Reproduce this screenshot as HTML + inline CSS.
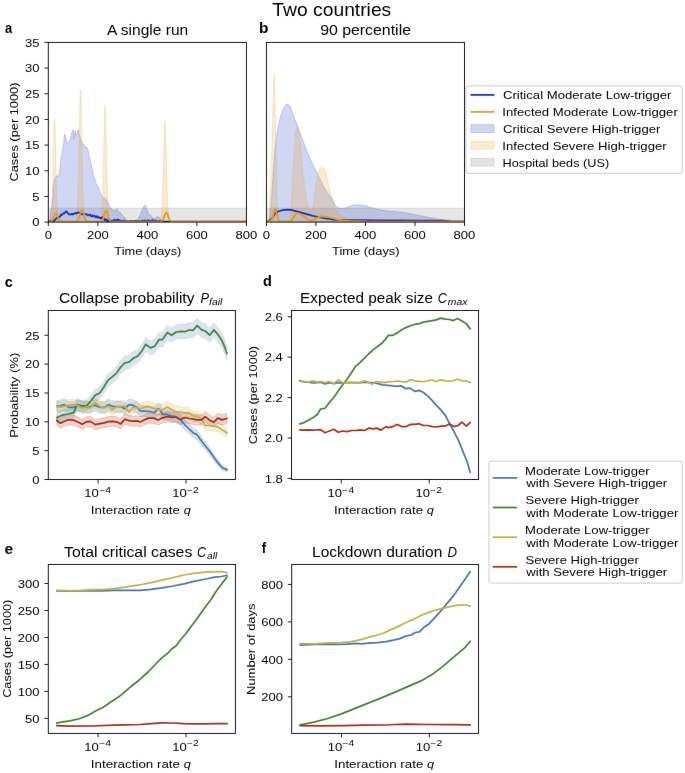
<!DOCTYPE html>
<html><head><meta charset="utf-8"><title>Two countries</title><style>
html,body{margin:0;padding:0;background:#fff;width:685px;height:773px;overflow:hidden}
svg{display:block;will-change:transform}
text{font-family:"Liberation Sans",sans-serif;fill:#000000}
</style></head><body>
<svg width="685" height="773" viewBox="0 0 685 773">
<defs><filter id="cv" x="0" y="0" width="685" height="773" filterUnits="userSpaceOnUse" color-interpolation-filters="sRGB"><feConvolveMatrix order="3" kernelMatrix="0.00163 0.03713 0.00163 0.03713 0.84497 0.03713 0.00163 0.03713 0.00163" edgeMode="duplicate" preserveAlpha="true"/></filter></defs><g filter="url(#cv)"><rect x="0" y="0" width="685" height="773" fill="#fff"/><defs>
<clipPath id="cpa"><rect x="48.3" y="42.4" width="198.10" height="179.70"/></clipPath>
<clipPath id="cpb"><rect x="266.4" y="42.4" width="198.10" height="179.70"/></clipPath>
<clipPath id="cpc"><rect x="48.3" y="310.5" width="187.10" height="169.00"/></clipPath>
<clipPath id="cpd"><rect x="291.5" y="310.5" width="187.10" height="169.00"/></clipPath>
<clipPath id="cpe"><rect x="48.3" y="564.5" width="187.10" height="168.90"/></clipPath>
<clipPath id="cpf"><rect x="291.7" y="564.5" width="186.90" height="168.90"/></clipPath>
</defs>
<text x="272.37" y="15.60" font-size="17.85" textLength="118.90" lengthAdjust="spacingAndGlyphs">Two countries</text>
<text x="5.01" y="33.00" font-size="13.97" textLength="7.21" lengthAdjust="spacingAndGlyphs" font-weight="bold">a</text>
<text x="259.10" y="32.60" font-size="13.97" textLength="9.44" lengthAdjust="spacingAndGlyphs" font-weight="bold">b</text>
<text x="4.73" y="286.90" font-size="13.97" textLength="7.99" lengthAdjust="spacingAndGlyphs" font-weight="bold">c</text>
<text x="263.12" y="285.90" font-size="13.97" textLength="8.83" lengthAdjust="spacingAndGlyphs" font-weight="bold">d</text>
<text x="4.48" y="553.60" font-size="13.97" textLength="8.65" lengthAdjust="spacingAndGlyphs" font-weight="bold">e</text>
<text x="261.77" y="552.60" font-size="13.97" textLength="4.41" lengthAdjust="spacingAndGlyphs" font-weight="bold">f</text>
<text x="106.96" y="35.30" font-size="13.97" textLength="81.22" lengthAdjust="spacingAndGlyphs">A single run</text>
<text x="320.15" y="35.30" font-size="13.97" textLength="90.85" lengthAdjust="spacingAndGlyphs">90 percentile</text>
<text x="59.12" y="303.20" font-size="13.97" textLength="135.31" lengthAdjust="spacingAndGlyphs">Collapse probability</text>
<text x="200.41" y="303.20" font-size="13.97" textLength="8.58" lengthAdjust="spacingAndGlyphs" font-style="italic">P</text>
<text x="209.06" y="304.50" font-size="9.78" textLength="13.41" lengthAdjust="spacingAndGlyphs" font-style="italic">fail</text>
<text x="300.14" y="303.20" font-size="13.97" textLength="132.85" lengthAdjust="spacingAndGlyphs">Expected peak size</text>
<text x="437.81" y="303.20" font-size="13.97" textLength="9.02" lengthAdjust="spacingAndGlyphs" font-style="italic">C</text>
<text x="447.82" y="304.50" font-size="9.78" textLength="19.59" lengthAdjust="spacingAndGlyphs" font-style="italic">max</text>
<text x="64.14" y="557.30" font-size="13.97" textLength="128.19" lengthAdjust="spacingAndGlyphs">Total critical cases</text>
<text x="197.11" y="557.30" font-size="13.97" textLength="9.02" lengthAdjust="spacingAndGlyphs" font-style="italic">C</text>
<text x="207.07" y="558.60" font-size="9.78" textLength="10.11" lengthAdjust="spacingAndGlyphs" font-style="italic">all</text>
<text x="312.02" y="557.30" font-size="13.97" textLength="130.29" lengthAdjust="spacingAndGlyphs">Lockdown duration</text>
<text x="447.60" y="557.30" font-size="13.97" textLength="9.52" lengthAdjust="spacingAndGlyphs" font-style="italic">D</text>
<text x="114.31" y="254.60" font-size="11.63" textLength="67.07" lengthAdjust="spacingAndGlyphs">Time (days)</text>
<text x="332.11" y="254.60" font-size="11.63" textLength="67.48" lengthAdjust="spacingAndGlyphs">Time (days)</text>
<text x="90.86" y="513.60" font-size="11.63" textLength="89.11" lengthAdjust="spacingAndGlyphs">Interaction rate</text>
<text x="183.69" y="513.60" font-size="11.63" textLength="7.09" lengthAdjust="spacingAndGlyphs" font-style="italic">q</text>
<text x="334.06" y="513.60" font-size="11.63" textLength="89.11" lengthAdjust="spacingAndGlyphs">Interaction rate</text>
<text x="426.89" y="513.60" font-size="11.63" textLength="7.09" lengthAdjust="spacingAndGlyphs" font-style="italic">q</text>
<text x="90.86" y="767.50" font-size="11.63" textLength="89.11" lengthAdjust="spacingAndGlyphs">Interaction rate</text>
<text x="183.69" y="767.50" font-size="11.63" textLength="7.09" lengthAdjust="spacingAndGlyphs" font-style="italic">q</text>
<text x="334.26" y="767.50" font-size="11.63" textLength="89.11" lengthAdjust="spacingAndGlyphs">Interaction rate</text>
<text x="427.09" y="767.50" font-size="11.63" textLength="7.09" lengthAdjust="spacingAndGlyphs" font-style="italic">q</text>
<text transform="translate(18.20 180.90) rotate(-90)" x="-0.64" y="0" font-size="11.63" textLength="99.03" lengthAdjust="spacingAndGlyphs">Cases (per 1000)</text>
<text transform="translate(18.40 436.60) rotate(-90)" x="-1.08" y="0" font-size="11.63" textLength="84.96" lengthAdjust="spacingAndGlyphs">Probability (%)</text>
<text transform="translate(257.40 443.60) rotate(-90)" x="-0.64" y="0" font-size="11.63" textLength="98.32" lengthAdjust="spacingAndGlyphs">Cases (per 1000)</text>
<text transform="translate(11.30 697.20) rotate(-90)" x="-0.63" y="0" font-size="11.63" textLength="98.11" lengthAdjust="spacingAndGlyphs">Cases (per 1000)</text>
<text transform="translate(254.50 693.90) rotate(-90)" x="-1.07" y="0" font-size="11.63" textLength="91.51" lengthAdjust="spacingAndGlyphs">Number of days</text>
<line x1="48.30" y1="222.10" x2="48.30" y2="226.00" stroke="#000000" stroke-width="0.89"/>
<text x="48.30" y="239.40" font-size="11.63" text-anchor="middle" textLength="7.25" lengthAdjust="spacingAndGlyphs">0</text>
<line x1="97.83" y1="222.10" x2="97.83" y2="226.00" stroke="#000000" stroke-width="0.89"/>
<text x="97.83" y="239.40" font-size="11.63" text-anchor="middle" textLength="21.76" lengthAdjust="spacingAndGlyphs">200</text>
<line x1="147.35" y1="222.10" x2="147.35" y2="226.00" stroke="#000000" stroke-width="0.89"/>
<text x="147.35" y="239.40" font-size="11.63" text-anchor="middle" textLength="21.76" lengthAdjust="spacingAndGlyphs">400</text>
<line x1="196.88" y1="222.10" x2="196.88" y2="226.00" stroke="#000000" stroke-width="0.89"/>
<text x="196.88" y="239.40" font-size="11.63" text-anchor="middle" textLength="21.76" lengthAdjust="spacingAndGlyphs">600</text>
<line x1="246.40" y1="222.10" x2="246.40" y2="226.00" stroke="#000000" stroke-width="0.89"/>
<text x="246.40" y="239.40" font-size="11.63" text-anchor="middle" textLength="21.76" lengthAdjust="spacingAndGlyphs">800</text>
<line x1="266.40" y1="222.10" x2="266.40" y2="226.00" stroke="#000000" stroke-width="0.89"/>
<text x="266.40" y="239.40" font-size="11.63" text-anchor="middle" textLength="7.25" lengthAdjust="spacingAndGlyphs">0</text>
<line x1="315.92" y1="222.10" x2="315.92" y2="226.00" stroke="#000000" stroke-width="0.89"/>
<text x="315.92" y="239.40" font-size="11.63" text-anchor="middle" textLength="21.76" lengthAdjust="spacingAndGlyphs">200</text>
<line x1="365.45" y1="222.10" x2="365.45" y2="226.00" stroke="#000000" stroke-width="0.89"/>
<text x="365.45" y="239.40" font-size="11.63" text-anchor="middle" textLength="21.76" lengthAdjust="spacingAndGlyphs">400</text>
<line x1="414.98" y1="222.10" x2="414.98" y2="226.00" stroke="#000000" stroke-width="0.89"/>
<text x="414.98" y="239.40" font-size="11.63" text-anchor="middle" textLength="21.76" lengthAdjust="spacingAndGlyphs">600</text>
<line x1="464.50" y1="222.10" x2="464.50" y2="226.00" stroke="#000000" stroke-width="0.89"/>
<text x="464.50" y="239.40" font-size="11.63" text-anchor="middle" textLength="21.76" lengthAdjust="spacingAndGlyphs">800</text>
<line x1="44.40" y1="222.10" x2="48.30" y2="222.10" stroke="#000000" stroke-width="0.89"/>
<text x="39.60" y="226.35" font-size="11.63" text-anchor="end" textLength="7.25" lengthAdjust="spacingAndGlyphs">0</text>
<line x1="44.40" y1="196.43" x2="48.30" y2="196.43" stroke="#000000" stroke-width="0.89"/>
<text x="39.60" y="200.68" font-size="11.63" text-anchor="end" textLength="7.25" lengthAdjust="spacingAndGlyphs">5</text>
<line x1="44.40" y1="170.76" x2="48.30" y2="170.76" stroke="#000000" stroke-width="0.89"/>
<text x="39.60" y="175.01" font-size="11.63" text-anchor="end" textLength="14.51" lengthAdjust="spacingAndGlyphs">10</text>
<line x1="44.40" y1="145.09" x2="48.30" y2="145.09" stroke="#000000" stroke-width="0.89"/>
<text x="39.60" y="149.34" font-size="11.63" text-anchor="end" textLength="14.51" lengthAdjust="spacingAndGlyphs">15</text>
<line x1="44.40" y1="119.41" x2="48.30" y2="119.41" stroke="#000000" stroke-width="0.89"/>
<text x="39.60" y="123.66" font-size="11.63" text-anchor="end" textLength="14.51" lengthAdjust="spacingAndGlyphs">20</text>
<line x1="44.40" y1="93.74" x2="48.30" y2="93.74" stroke="#000000" stroke-width="0.89"/>
<text x="39.60" y="97.99" font-size="11.63" text-anchor="end" textLength="14.51" lengthAdjust="spacingAndGlyphs">25</text>
<line x1="44.40" y1="68.07" x2="48.30" y2="68.07" stroke="#000000" stroke-width="0.89"/>
<text x="39.60" y="72.32" font-size="11.63" text-anchor="end" textLength="14.51" lengthAdjust="spacingAndGlyphs">30</text>
<line x1="44.40" y1="42.40" x2="48.30" y2="42.40" stroke="#000000" stroke-width="0.89"/>
<text x="39.60" y="46.65" font-size="11.63" text-anchor="end" textLength="14.51" lengthAdjust="spacingAndGlyphs">35</text>
<line x1="98.10" y1="479.50" x2="98.10" y2="483.40" stroke="#000000" stroke-width="0.89"/>
<text x="84.36" y="496.70" font-size="11.63" textLength="14.51" lengthAdjust="spacingAndGlyphs">10</text>
<text x="99.17" y="492.50" font-size="8.14" textLength="11.76" lengthAdjust="spacingAndGlyphs">−4</text>
<line x1="186.00" y1="479.50" x2="186.00" y2="483.40" stroke="#000000" stroke-width="0.89"/>
<text x="172.26" y="496.70" font-size="11.63" textLength="14.51" lengthAdjust="spacingAndGlyphs">10</text>
<text x="187.07" y="492.50" font-size="8.14" textLength="11.76" lengthAdjust="spacingAndGlyphs">−2</text>
<line x1="341.30" y1="479.50" x2="341.30" y2="483.40" stroke="#000000" stroke-width="0.89"/>
<text x="327.56" y="496.70" font-size="11.63" textLength="14.51" lengthAdjust="spacingAndGlyphs">10</text>
<text x="342.37" y="492.50" font-size="8.14" textLength="11.76" lengthAdjust="spacingAndGlyphs">−4</text>
<line x1="429.20" y1="479.50" x2="429.20" y2="483.40" stroke="#000000" stroke-width="0.89"/>
<text x="415.46" y="496.70" font-size="11.63" textLength="14.51" lengthAdjust="spacingAndGlyphs">10</text>
<text x="430.27" y="492.50" font-size="8.14" textLength="11.76" lengthAdjust="spacingAndGlyphs">−2</text>
<line x1="98.10" y1="733.40" x2="98.10" y2="737.30" stroke="#000000" stroke-width="0.89"/>
<text x="84.36" y="750.60" font-size="11.63" textLength="14.51" lengthAdjust="spacingAndGlyphs">10</text>
<text x="99.17" y="746.40" font-size="8.14" textLength="11.76" lengthAdjust="spacingAndGlyphs">−4</text>
<line x1="186.00" y1="733.40" x2="186.00" y2="737.30" stroke="#000000" stroke-width="0.89"/>
<text x="172.26" y="750.60" font-size="11.63" textLength="14.51" lengthAdjust="spacingAndGlyphs">10</text>
<text x="187.07" y="746.40" font-size="8.14" textLength="11.76" lengthAdjust="spacingAndGlyphs">−2</text>
<line x1="341.50" y1="733.40" x2="341.50" y2="737.30" stroke="#000000" stroke-width="0.89"/>
<text x="327.76" y="750.60" font-size="11.63" textLength="14.51" lengthAdjust="spacingAndGlyphs">10</text>
<text x="342.57" y="746.40" font-size="8.14" textLength="11.76" lengthAdjust="spacingAndGlyphs">−4</text>
<line x1="429.40" y1="733.40" x2="429.40" y2="737.30" stroke="#000000" stroke-width="0.89"/>
<text x="415.66" y="750.60" font-size="11.63" textLength="14.51" lengthAdjust="spacingAndGlyphs">10</text>
<text x="430.47" y="746.40" font-size="8.14" textLength="11.76" lengthAdjust="spacingAndGlyphs">−2</text>
<line x1="44.40" y1="479.50" x2="48.30" y2="479.50" stroke="#000000" stroke-width="0.89"/>
<text x="39.60" y="483.75" font-size="11.63" text-anchor="end" textLength="7.25" lengthAdjust="spacingAndGlyphs">0</text>
<line x1="44.40" y1="450.65" x2="48.30" y2="450.65" stroke="#000000" stroke-width="0.89"/>
<text x="39.60" y="454.90" font-size="11.63" text-anchor="end" textLength="7.25" lengthAdjust="spacingAndGlyphs">5</text>
<line x1="44.40" y1="421.80" x2="48.30" y2="421.80" stroke="#000000" stroke-width="0.89"/>
<text x="39.60" y="426.05" font-size="11.63" text-anchor="end" textLength="14.51" lengthAdjust="spacingAndGlyphs">10</text>
<line x1="44.40" y1="392.95" x2="48.30" y2="392.95" stroke="#000000" stroke-width="0.89"/>
<text x="39.60" y="397.20" font-size="11.63" text-anchor="end" textLength="14.51" lengthAdjust="spacingAndGlyphs">15</text>
<line x1="44.40" y1="364.10" x2="48.30" y2="364.10" stroke="#000000" stroke-width="0.89"/>
<text x="39.60" y="368.35" font-size="11.63" text-anchor="end" textLength="14.51" lengthAdjust="spacingAndGlyphs">20</text>
<line x1="44.40" y1="335.25" x2="48.30" y2="335.25" stroke="#000000" stroke-width="0.89"/>
<text x="39.60" y="339.50" font-size="11.63" text-anchor="end" textLength="14.51" lengthAdjust="spacingAndGlyphs">25</text>
<line x1="287.60" y1="478.40" x2="291.50" y2="478.40" stroke="#000000" stroke-width="0.89"/>
<text x="282.80" y="482.65" font-size="11.63" text-anchor="end" textLength="18.13" lengthAdjust="spacingAndGlyphs">1.8</text>
<line x1="287.60" y1="438.00" x2="291.50" y2="438.00" stroke="#000000" stroke-width="0.89"/>
<text x="282.80" y="442.25" font-size="11.63" text-anchor="end" textLength="18.13" lengthAdjust="spacingAndGlyphs">2.0</text>
<line x1="287.60" y1="397.60" x2="291.50" y2="397.60" stroke="#000000" stroke-width="0.89"/>
<text x="282.80" y="401.85" font-size="11.63" text-anchor="end" textLength="18.13" lengthAdjust="spacingAndGlyphs">2.2</text>
<line x1="287.60" y1="357.20" x2="291.50" y2="357.20" stroke="#000000" stroke-width="0.89"/>
<text x="282.80" y="361.45" font-size="11.63" text-anchor="end" textLength="18.13" lengthAdjust="spacingAndGlyphs">2.4</text>
<line x1="287.60" y1="316.80" x2="291.50" y2="316.80" stroke="#000000" stroke-width="0.89"/>
<text x="282.80" y="321.05" font-size="11.63" text-anchor="end" textLength="18.13" lengthAdjust="spacingAndGlyphs">2.6</text>
<line x1="44.40" y1="718.40" x2="48.30" y2="718.40" stroke="#000000" stroke-width="0.89"/>
<text x="39.60" y="722.65" font-size="11.63" text-anchor="end" textLength="14.51" lengthAdjust="spacingAndGlyphs">50</text>
<line x1="44.40" y1="691.42" x2="48.30" y2="691.42" stroke="#000000" stroke-width="0.89"/>
<text x="39.60" y="695.67" font-size="11.63" text-anchor="end" textLength="21.76" lengthAdjust="spacingAndGlyphs">100</text>
<line x1="44.40" y1="664.44" x2="48.30" y2="664.44" stroke="#000000" stroke-width="0.89"/>
<text x="39.60" y="668.69" font-size="11.63" text-anchor="end" textLength="21.76" lengthAdjust="spacingAndGlyphs">150</text>
<line x1="44.40" y1="637.46" x2="48.30" y2="637.46" stroke="#000000" stroke-width="0.89"/>
<text x="39.60" y="641.71" font-size="11.63" text-anchor="end" textLength="21.76" lengthAdjust="spacingAndGlyphs">200</text>
<line x1="44.40" y1="610.48" x2="48.30" y2="610.48" stroke="#000000" stroke-width="0.89"/>
<text x="39.60" y="614.73" font-size="11.63" text-anchor="end" textLength="21.76" lengthAdjust="spacingAndGlyphs">250</text>
<line x1="44.40" y1="583.50" x2="48.30" y2="583.50" stroke="#000000" stroke-width="0.89"/>
<text x="39.60" y="587.75" font-size="11.63" text-anchor="end" textLength="21.76" lengthAdjust="spacingAndGlyphs">300</text>
<line x1="287.80" y1="696.80" x2="291.70" y2="696.80" stroke="#000000" stroke-width="0.89"/>
<text x="283.00" y="701.05" font-size="11.63" text-anchor="end" textLength="21.76" lengthAdjust="spacingAndGlyphs">200</text>
<line x1="287.80" y1="659.36" x2="291.70" y2="659.36" stroke="#000000" stroke-width="0.89"/>
<text x="283.00" y="663.61" font-size="11.63" text-anchor="end" textLength="21.76" lengthAdjust="spacingAndGlyphs">400</text>
<line x1="287.80" y1="621.92" x2="291.70" y2="621.92" stroke="#000000" stroke-width="0.89"/>
<text x="283.00" y="626.17" font-size="11.63" text-anchor="end" textLength="21.76" lengthAdjust="spacingAndGlyphs">600</text>
<line x1="287.80" y1="584.48" x2="291.70" y2="584.48" stroke="#000000" stroke-width="0.89"/>
<text x="283.00" y="588.73" font-size="11.63" text-anchor="end" textLength="21.76" lengthAdjust="spacingAndGlyphs">800</text>
<rect x="48.3" y="208.2" width="198.10" height="13.90" fill="#808080" fill-opacity="0.2" stroke="#808080" stroke-opacity="0.2" stroke-width="1" clip-path="url(#cpa)"/>
<rect x="266.4" y="208.2" width="198.10" height="13.90" fill="#808080" fill-opacity="0.2" stroke="#808080" stroke-opacity="0.2" stroke-width="1" clip-path="url(#cpb)"/>
<polygon points="49.40,222.10 49.90,218.77 50.40,215.44 50.90,212.05 51.40,208.74 52.10,202.44 52.80,196.52 53.45,188.13 54.10,181.07 54.65,179.49 55.20,177.15 55.77,176.97 56.33,175.75 56.90,175.67 57.55,176.10 58.20,177.04 58.90,174.37 59.60,171.11 60.20,164.67 60.80,158.08 61.40,156.38 62.00,153.90 62.60,150.96 63.20,147.20 63.80,142.14 64.30,134.72 65.20,134.53 66.10,138.50 67.00,143.47 67.55,142.96 68.10,143.12 68.70,142.58 69.30,141.17 69.90,139.99 70.50,140.06 71.40,133.84 71.95,132.48 72.50,130.50 73.40,129.84 74.00,139.19 74.55,135.37 75.10,131.19 76.00,135.30 76.60,134.51 77.20,133.47 77.80,131.70 78.40,129.87 79.20,134.70 79.70,136.57 80.20,137.54 80.70,139.78 81.27,140.60 81.83,141.74 82.40,143.42 82.90,143.68 83.40,144.12 83.90,144.88 84.80,146.20 85.35,146.46 85.90,148.28 86.50,147.17 87.10,147.75 87.70,149.74 88.30,150.82 88.90,154.79 89.50,157.57 90.05,159.83 90.60,161.31 91.13,163.71 91.67,166.21 92.20,169.36 92.70,170.62 93.20,173.21 93.70,175.40 94.20,177.44 94.70,178.54 95.20,180.25 95.70,182.12 96.20,184.08 96.72,184.11 97.25,185.45 97.78,186.20 98.30,186.96 98.95,188.14 99.60,191.05 100.30,192.14 101.00,194.34 101.57,195.58 102.13,196.85 102.70,197.24 103.22,198.00 103.75,197.80 104.28,197.74 104.80,197.92 105.30,198.28 105.80,198.68 106.30,199.25 106.80,200.29 107.45,202.00 108.10,202.56 108.80,203.80 109.50,206.09 110.20,206.98 110.90,208.21 111.40,208.54 111.90,209.39 112.40,210.13 112.90,210.26 113.40,210.40 113.90,210.21 114.40,211.24 114.90,210.53 115.60,210.29 116.30,209.94 117.00,208.63 117.65,210.23 118.30,211.45 118.83,211.63 119.35,212.29 119.88,212.11 120.40,212.93 120.90,213.17 121.40,214.39 121.90,214.37 122.40,215.05 122.90,216.10 123.40,216.45 123.90,217.08 124.40,217.05 124.93,217.94 125.45,219.03 125.97,219.63 126.50,220.29 127.00,220.58 127.50,220.50 128.00,220.90 128.50,221.69 129.02,221.61 129.55,221.22 130.07,221.04 130.59,220.82 131.12,220.52 131.64,220.65 132.16,221.11 132.68,221.14 133.21,220.58 133.73,220.95 134.25,220.88 134.78,220.75 135.30,220.66 135.84,220.50 136.38,219.84 136.92,219.92 137.46,219.24 138.00,219.19 138.50,218.44 139.00,217.34 139.50,215.92 140.00,215.55 140.53,214.05 141.05,212.78 141.57,211.01 142.10,210.35 142.60,208.88 143.10,208.12 143.60,206.74 144.10,205.92 144.60,205.20 145.10,204.80 145.65,205.55 146.20,207.04 146.85,209.19 147.50,211.33 148.20,212.90 148.90,215.44 149.55,215.12 150.20,214.59 150.90,215.58 151.60,216.26 152.25,217.17 152.90,218.53 153.60,217.82 154.30,218.14 155.00,218.59 155.70,218.48 156.35,217.64 157.00,216.62 157.50,216.76 158.00,216.34 158.50,217.08 159.00,217.43 159.50,218.07 160.00,218.37 160.50,219.12 161.00,219.87 161.50,220.34 162.00,221.02 162.50,220.48 163.00,220.76 163.50,221.19 164.00,221.40 164.00,222.10 49.40,222.10" fill="#1830c4" fill-opacity="0.2" stroke="#1830c4" stroke-opacity="0.2" stroke-width="1.0" stroke-linejoin="round" clip-path="url(#cpa)"/>
<polygon points="46.50,222.10 46.70,222.10 46.90,222.10 47.10,222.10 47.30,222.10 47.50,222.10 47.70,222.09 47.90,222.09 48.10,222.09 48.30,222.08 48.50,222.06 48.70,222.04 48.90,222.01 49.10,221.95 49.30,221.87 49.50,221.76 49.70,221.58 49.90,221.34 50.10,220.99 50.30,220.50 50.50,219.83 50.70,218.92 50.90,217.70 51.10,216.11 51.30,214.06 51.50,211.45 51.70,208.21 51.90,204.25 52.10,199.50 52.30,193.92 52.50,187.50 52.70,180.28 52.90,172.37 53.10,163.93 53.30,155.20 53.50,146.49 53.70,138.19 53.90,130.73 54.10,124.58 54.30,120.29 54.50,118.50 54.70,120.29 54.90,124.58 55.10,130.73 55.30,138.19 55.50,146.49 55.70,155.20 55.90,163.93 56.10,172.37 56.30,180.28 56.50,187.50 56.70,193.92 56.90,199.50 57.10,204.25 57.30,208.21 57.50,211.45 57.70,214.06 57.90,216.11 58.10,217.70 58.30,218.92 58.50,219.83 58.70,220.50 58.90,220.99 59.10,221.34 59.30,221.58 59.50,221.76 59.70,221.87 59.90,221.95 60.10,222.01 60.30,222.04 60.50,222.06 60.70,222.08 60.90,222.09 61.10,222.09 61.30,222.09 61.50,222.10 61.70,222.10 61.90,222.10 62.10,222.10 62.30,222.10 62.50,222.10" fill="#e69919" fill-opacity="0.2" stroke="#e69919" stroke-opacity="0.2" stroke-width="1.0" stroke-linejoin="round" clip-path="url(#cpa)"/>
<polygon points="72.50,222.10 72.70,222.10 72.90,222.10 73.10,222.10 73.30,222.09 73.50,222.09 73.70,222.08 73.90,222.08 74.10,222.06 74.30,222.04 74.50,222.00 74.70,221.95 74.90,221.88 75.10,221.76 75.30,221.60 75.50,221.37 75.70,221.05 75.90,220.60 76.10,219.98 76.30,219.15 76.50,218.04 76.70,216.58 76.90,214.68 77.10,212.27 77.30,209.24 77.50,205.50 77.70,200.95 77.90,195.51 78.10,189.12 78.30,181.77 78.50,173.47 78.70,164.30 78.90,154.40 79.10,143.99 79.30,133.37 79.50,122.90 79.70,113.01 79.90,104.20 80.10,97.00 80.30,91.98 80.50,89.90 80.70,91.98 80.90,97.00 81.10,104.20 81.30,113.01 81.50,122.90 81.70,133.37 81.90,143.99 82.10,154.40 82.30,164.30 82.50,173.47 82.70,181.77 82.90,189.12 83.10,195.51 83.30,200.95 83.50,205.50 83.70,209.24 83.90,212.27 84.10,214.68 84.30,216.58 84.50,218.04 84.70,219.15 84.90,219.98 85.10,220.60 85.30,221.05 85.50,221.37 85.70,221.60 85.90,221.76 86.10,221.88 86.30,221.95 86.50,222.00 86.70,222.04 86.90,222.06 87.10,222.08 87.30,222.08 87.50,222.09 87.70,222.09 87.90,222.10 88.10,222.10 88.30,222.10 88.50,222.10" fill="#e69919" fill-opacity="0.2" stroke="#e69919" stroke-opacity="0.2" stroke-width="1.0" stroke-linejoin="round" clip-path="url(#cpa)"/>
<polygon points="97.10,222.10 97.30,222.10 97.50,222.10 97.70,222.10 97.90,222.09 98.10,222.09 98.30,222.09 98.50,222.08 98.70,222.07 98.90,222.05 99.10,222.01 99.30,221.97 99.50,221.90 99.70,221.80 99.90,221.66 100.10,221.46 100.30,221.17 100.50,220.78 100.70,220.23 100.90,219.49 101.10,218.51 101.30,217.22 101.50,215.55 101.70,213.42 101.90,210.75 102.10,207.44 102.30,203.43 102.50,198.62 102.70,192.99 102.90,186.50 103.10,179.17 103.30,171.07 103.50,162.34 103.70,153.15 103.90,143.77 104.10,134.53 104.30,125.80 104.50,118.03 104.70,111.67 104.90,107.23 105.10,105.40 105.30,107.23 105.50,111.67 105.70,118.03 105.90,125.80 106.10,134.53 106.30,143.77 106.50,153.15 106.70,162.34 106.90,171.07 107.10,179.17 107.30,186.50 107.50,192.99 107.70,198.62 107.90,203.43 108.10,207.44 108.30,210.75 108.50,213.42 108.70,215.55 108.90,217.22 109.10,218.51 109.30,219.49 109.50,220.23 109.70,220.78 109.90,221.17 110.10,221.46 110.30,221.66 110.50,221.80 110.70,221.90 110.90,221.97 111.10,222.01 111.30,222.05 111.50,222.07 111.70,222.08 111.90,222.09 112.10,222.09 112.30,222.09 112.50,222.10 112.70,222.10 112.90,222.10 113.10,222.10" fill="#e69919" fill-opacity="0.2" stroke="#e69919" stroke-opacity="0.2" stroke-width="1.0" stroke-linejoin="round" clip-path="url(#cpa)"/>
<polygon points="156.90,222.10 157.10,222.10 157.30,222.10 157.50,222.09 157.70,222.09 157.90,222.08 158.10,222.07 158.30,222.06 158.50,222.04 158.70,222.01 158.90,221.97 159.10,221.90 159.30,221.81 159.50,221.68 159.70,221.49 159.90,221.24 160.10,220.90 160.30,220.43 160.50,219.81 160.70,219.00 160.90,217.94 161.10,216.59 161.30,214.89 161.50,212.77 161.70,210.16 161.90,207.01 162.10,203.26 162.30,198.87 162.50,193.81 162.70,188.09 162.90,181.73 163.10,174.80 163.30,167.44 163.50,159.79 163.70,152.07 163.90,144.54 164.10,137.49 164.30,131.25 164.50,126.17 164.70,122.65 164.90,121.20 165.10,122.65 165.30,126.17 165.50,131.25 165.70,137.49 165.90,144.54 166.10,152.07 166.30,159.79 166.50,167.44 166.70,174.80 166.90,181.73 167.10,188.09 167.30,193.81 167.50,198.87 167.70,203.26 167.90,207.01 168.10,210.16 168.30,212.77 168.50,214.89 168.70,216.59 168.90,217.94 169.10,219.00 169.30,219.81 169.50,220.43 169.70,220.90 169.90,221.24 170.10,221.49 170.30,221.68 170.50,221.81 170.70,221.90 170.90,221.97 171.10,222.01 171.30,222.04 171.50,222.06 171.70,222.07 171.90,222.08 172.10,222.09 172.30,222.09 172.50,222.10 172.70,222.10 172.90,222.10" fill="#e69919" fill-opacity="0.2" stroke="#e69919" stroke-opacity="0.2" stroke-width="1.0" stroke-linejoin="round" clip-path="url(#cpa)"/>
<polyline points="48.50,221.50 49.08,221.07 49.66,221.44 50.24,221.14 50.82,221.41 51.40,221.38 51.94,220.45 52.48,220.24 53.02,221.25 53.56,220.30 54.10,220.13 54.62,220.69 55.15,219.46 55.68,219.47 56.20,218.47 56.70,218.34 57.20,217.31 57.70,217.64 58.20,217.62 58.90,216.93 59.60,217.04 60.25,216.14 60.90,214.49 61.60,215.11 62.30,214.53 62.95,213.77 63.60,213.04 64.30,213.56 65.00,212.36 65.55,211.86 66.10,211.23 67.00,212.00 67.70,213.29 68.40,213.55 69.10,214.47 69.80,214.32 70.45,214.66 71.10,214.23 71.80,213.69 72.50,214.29 73.15,213.85 73.80,214.35 74.50,213.26 75.20,213.18 75.85,212.97 76.50,213.51 77.20,212.89 77.90,212.39 78.60,212.62 79.30,212.52 79.95,213.27 80.60,213.25 81.30,213.95 82.00,214.20 82.50,214.39 83.00,213.94 83.50,213.23 84.00,214.20 84.70,214.25 85.40,214.07 86.05,214.05 86.70,214.70 87.40,214.35 88.10,215.56 88.75,215.20 89.40,214.80 90.10,214.64 90.80,215.90 91.50,216.29 92.20,215.22 92.85,216.42 93.50,216.07 94.20,215.81 94.90,216.11 95.40,216.95 95.90,217.27 96.40,216.29 96.90,217.26 97.40,216.46 97.90,217.41 98.40,216.86 98.90,217.63 99.60,217.97 100.30,217.51 101.00,218.50 101.70,217.83 102.35,217.01 103.00,217.24 103.70,218.14 104.40,220.08 104.93,220.14 105.47,220.19 106.00,219.32 106.50,219.43 107.00,220.86 107.50,220.36 108.00,221.50 108.50,221.28 109.00,220.38 109.50,220.32 110.00,220.23 110.50,220.55 111.00,220.63 111.50,220.73 112.00,220.97 112.50,221.19 113.00,220.36 113.50,220.03 114.00,220.21 114.50,219.71 115.00,219.97 115.50,221.09 116.00,220.63 116.50,220.52 117.00,219.62 117.50,220.03 118.00,220.11 118.50,219.55 119.00,220.61 119.50,220.86 120.00,220.28 120.50,221.12 121.00,220.93 121.50,221.26 122.00,220.84 122.50,221.38 123.00,221.46 123.50,220.49 124.00,220.58 124.50,221.48 125.00,221.50 125.50,220.96 126.00,221.29 126.50,221.50 127.00,221.17 127.50,221.27 128.00,221.24 128.50,221.31 129.00,221.50 129.50,221.20 130.00,221.29 130.50,221.50 131.00,220.79 131.50,221.50 132.00,221.50 132.50,221.16 133.00,221.03 133.50,221.50 134.00,221.03 134.50,220.95 135.00,221.29 135.50,221.50 136.00,220.81 136.50,221.11 137.00,221.12 137.50,221.50 138.00,221.25 138.50,221.50 139.00,220.85 139.50,221.08 140.00,221.50 140.50,221.50 141.00,221.11 141.50,220.74 142.00,220.54 142.50,221.05 143.00,220.52 143.50,221.32 144.00,221.31 144.50,220.33 145.00,220.41 145.50,221.09 146.00,220.80 146.50,221.08 147.00,220.48 147.50,220.23 148.00,220.51 148.50,221.26 149.00,220.58 149.50,220.73 150.00,220.88 150.50,220.81 151.00,220.72 151.50,221.36 152.00,220.22 152.50,219.93 153.00,221.17 153.50,221.01 154.00,221.08 154.50,220.41 155.00,221.23 155.50,221.30 156.00,220.41 156.50,221.24 157.00,221.47 157.50,221.33 158.00,221.23 158.50,220.93 159.00,221.03 159.50,220.89 160.00,220.70 160.50,221.32 161.00,221.35 161.50,221.38 162.00,221.40 162.50,221.43 163.00,221.45 163.50,221.47 164.00,221.50 164.50,221.50 165.00,221.50 165.51,221.50 166.01,221.50 166.51,221.50 167.01,221.50 167.52,221.50 168.02,221.50 168.52,221.50 169.02,221.50 169.53,221.50 170.03,221.50 170.53,221.50 171.03,221.50 171.54,221.50 172.04,221.50 172.54,221.50 173.04,221.50 173.55,221.50 174.05,221.50 174.55,221.50 175.05,221.50 175.56,221.50 176.06,221.50 176.56,221.50 177.06,221.50 177.57,221.50 178.07,221.50 178.57,221.50 179.07,221.50 179.58,221.50 180.08,221.50 180.58,221.50 181.08,221.50 181.59,221.50 182.09,221.50 182.59,221.50 183.09,221.50 183.60,221.50 184.10,221.50 184.60,221.50 185.10,221.50 185.61,221.50 186.11,221.50 186.61,221.50 187.11,221.50 187.62,221.50 188.12,221.50 188.62,221.50 189.12,221.50 189.63,221.50 190.13,221.50 190.63,221.50 191.13,221.50 191.63,221.50 192.14,221.50 192.64,221.50 193.14,221.50 193.64,221.50 194.15,221.50 194.65,221.50 195.15,221.50 195.65,221.50 196.16,221.50 196.66,221.50 197.16,221.50 197.66,221.50 198.17,221.50 198.67,221.50 199.17,221.50 199.67,221.50 200.18,221.50 200.68,221.50 201.18,221.50 201.68,221.50 202.19,221.50 202.69,221.50 203.19,221.50 203.69,221.50 204.20,221.50 204.70,221.50 205.20,221.50 205.70,221.50 206.21,221.50 206.71,221.50 207.21,221.50 207.71,221.50 208.22,221.50 208.72,221.50 209.22,221.50 209.72,221.50 210.23,221.50 210.73,221.50 211.23,221.50 211.73,221.50 212.24,221.50 212.74,221.50 213.24,221.50 213.74,221.50 214.25,221.50 214.75,221.50 215.25,221.50 215.75,221.50 216.26,221.50 216.76,221.50 217.26,221.50 217.76,221.50 218.27,221.50 218.77,221.50 219.27,221.50 219.77,221.50 220.27,221.50 220.78,221.50 221.28,221.50 221.78,221.50 222.28,221.50 222.79,221.50 223.29,221.50 223.79,221.50 224.29,221.50 224.80,221.50 225.30,221.50 225.80,221.50 226.30,221.50 226.81,221.50 227.31,221.50 227.81,221.50 228.31,221.50 228.82,221.50 229.32,221.50 229.82,221.50 230.32,221.50 230.83,221.50 231.33,221.50 231.83,221.50 232.33,221.50 232.84,221.50 233.34,221.50 233.84,221.50 234.34,221.50 234.85,221.50 235.35,221.50 235.85,221.50 236.35,221.50 236.86,221.50 237.36,221.50 237.86,221.50 238.36,221.50 238.87,221.50 239.37,221.50 239.87,221.50 240.37,221.50 240.88,221.50 241.38,221.50 241.88,221.50 242.38,221.50 242.89,221.50 243.39,221.50 243.89,221.50 244.39,221.50 244.90,221.50 245.40,221.50 245.90,221.50" fill="none" stroke="#1830c4" stroke-width="1.72" stroke-linejoin="round" stroke-linecap="square" clip-path="url(#cpa)"/>
<polyline points="48.60,221.50 48.90,221.50 49.20,221.50 49.50,221.50 49.80,221.49 50.10,221.49 50.40,221.47 50.70,221.45 51.00,221.40 51.30,221.32 51.60,221.20 51.90,221.01 52.20,220.73 52.50,220.35 52.80,219.85 53.10,219.23 53.40,218.48 53.70,217.65 54.00,216.75 54.30,215.86 54.60,215.03 54.90,214.32 55.20,213.78 55.50,213.44 55.80,213.31 56.10,213.33 56.40,213.53 56.70,213.94 57.00,214.54 57.30,215.30 57.60,216.16 57.90,217.05 58.20,217.93 58.50,218.74 58.80,219.45 59.10,220.03 59.40,220.49 59.70,220.84 60.00,221.08 60.30,221.24 60.60,221.35 60.90,221.42 61.20,221.46 61.50,221.48 61.80,221.49 62.10,221.49 62.40,221.50 62.70,221.50 63.00,221.50 63.30,221.50 63.60,221.50 63.90,221.50 64.20,221.50 64.50,221.50 64.80,221.50 65.10,221.50 65.40,221.50 65.70,221.50 66.00,221.50 66.30,221.50 66.60,221.50 66.90,221.50 67.20,221.50 67.50,221.50 67.80,221.50 68.10,221.50 68.40,221.50 68.70,221.50 69.00,221.50 69.30,221.50 69.60,221.50 69.90,221.50 70.20,221.50 70.50,221.50 70.80,221.50 71.10,221.50 71.40,221.50 71.70,221.50 72.00,221.50 72.30,221.50 72.60,221.50 72.90,221.50 73.20,221.50 73.50,221.50 73.80,221.50 74.10,221.50 74.40,221.50 74.70,221.50 75.00,221.49 75.30,221.49 75.60,221.48 75.90,221.46 76.20,221.42 76.50,221.36 76.80,221.27 77.10,221.13 77.40,220.92 77.70,220.63 78.00,220.23 78.30,219.70 78.60,219.04 78.90,218.24 79.20,217.31 79.50,216.27 79.80,215.17 80.10,214.06 80.40,212.99 80.70,212.02 81.00,211.22 81.30,210.63 81.60,210.26 81.90,210.11 82.20,210.13 82.50,210.35 82.80,210.80 83.10,211.47 83.40,212.33 83.70,213.33 84.00,214.42 84.30,215.54 84.60,216.63 84.90,217.63 85.20,218.52 85.50,219.27 85.80,219.89 86.10,220.37 86.40,220.74 86.70,221.00 87.00,221.18 87.30,221.31 87.60,221.38 87.90,221.43 88.20,221.46 88.50,221.48 88.80,221.49 89.10,221.50 89.40,221.50 89.70,221.50 90.00,221.50 90.30,221.50 90.60,221.50 90.90,221.50 91.20,221.50 91.50,221.50 91.80,221.50 92.10,221.50 92.40,221.50 92.70,221.50 93.00,221.50 93.30,221.50 93.60,221.50 93.90,221.50 94.20,221.50 94.50,221.50 94.80,221.50 95.10,221.50 95.40,221.50 95.70,221.50 96.00,221.50 96.30,221.50 96.60,221.50 96.90,221.50 97.20,221.50 97.50,221.50 97.80,221.50 98.10,221.50 98.40,221.50 98.70,221.50 99.00,221.50 99.30,221.50 99.60,221.50 99.90,221.49 100.20,221.48 100.50,221.46 100.80,221.43 101.10,221.37 101.40,221.26 101.70,221.10 102.00,220.85 102.30,220.48 102.60,219.98 102.90,219.31 103.20,218.48 103.50,217.49 103.80,216.38 104.10,215.19 104.40,214.01 104.70,212.90 105.00,211.96 105.30,211.24 105.60,210.79 105.90,210.61 106.20,210.64 106.50,210.91 106.80,211.45 107.10,212.25 107.40,213.26 107.70,214.40 108.00,215.59 108.30,216.76 108.60,217.84 108.90,218.77 109.20,219.55 109.50,220.16 109.80,220.62 110.10,220.94 110.40,221.16 110.70,221.30 111.00,221.39 111.30,221.44 111.60,221.47 111.90,221.49 112.20,221.49 112.50,221.50 112.80,221.50 113.10,221.50 113.40,221.50 113.70,221.50 114.00,221.50 114.30,221.50 114.60,221.50 114.90,221.50 115.20,221.50 115.50,221.50 115.80,221.50 116.10,221.50 116.40,221.50 116.70,221.50 117.00,221.50 117.30,221.50 117.60,221.50 117.90,221.50 118.20,221.50 118.50,221.50 118.80,221.50 119.10,221.50 119.40,221.50 119.70,221.50 120.00,221.50 120.30,221.50 120.60,221.50 120.90,221.50 121.20,221.50 121.50,221.50 121.80,221.50 122.10,221.50 122.40,221.50 122.70,221.50 123.00,221.50 123.30,221.50 123.60,221.50 123.90,221.50 124.20,221.50 124.50,221.50 124.80,221.50 125.10,221.50 125.40,221.50 125.70,221.50 126.00,221.50 126.30,221.50 126.60,221.50 126.90,221.50 127.20,221.50 127.50,221.50 127.80,221.50 128.10,221.50 128.40,221.50 128.70,221.50 129.00,221.50 129.30,221.50 129.60,221.50 129.90,221.50 130.20,221.50 130.50,221.50 130.80,221.50 131.10,221.50 131.40,221.50 131.70,221.50 132.00,221.50 132.30,221.50 132.60,221.50 132.90,221.50 133.20,221.50 133.50,221.50 133.80,221.50 134.10,221.50 134.40,221.50 134.70,221.50 135.00,221.50 135.30,221.50 135.60,221.50 135.90,221.50 136.20,221.50 136.50,221.50 136.80,221.50 137.10,221.50 137.40,221.50 137.70,221.50 138.00,221.50 138.30,221.50 138.60,221.50 138.90,221.50 139.20,221.50 139.50,221.50 139.80,221.50 140.10,221.50 140.40,221.50 140.70,221.50 141.00,221.50 141.30,221.50 141.60,221.50 141.90,221.50 142.20,221.50 142.50,221.50 142.80,221.50 143.10,221.50 143.40,221.50 143.70,221.50 144.00,221.50 144.30,221.50 144.60,221.50 144.90,221.50 145.20,221.50 145.50,221.50 145.80,221.50 146.10,221.50 146.40,221.50 146.70,221.50 147.00,221.50 147.30,221.50 147.60,221.50 147.90,221.50 148.20,221.50 148.50,221.50 148.80,221.50 149.10,221.50 149.40,221.50 149.70,221.50 150.00,221.50 150.30,221.50 150.60,221.50 150.90,221.50 151.20,221.50 151.50,221.50 151.80,221.50 152.10,221.50 152.40,221.50 152.70,221.50 153.00,221.50 153.30,221.50 153.60,221.50 153.90,221.50 154.20,221.50 154.50,221.50 154.80,221.50 155.10,221.50 155.40,221.50 155.70,221.50 156.00,221.50 156.30,221.50 156.60,221.50 156.90,221.50 157.20,221.50 157.50,221.50 157.80,221.50 158.10,221.50 158.40,221.50 158.70,221.50 159.00,221.50 159.30,221.50 159.60,221.50 159.90,221.49 160.20,221.49 160.50,221.47 160.80,221.45 161.10,221.41 161.40,221.34 161.70,221.24 162.00,221.07 162.30,220.83 162.60,220.50 162.90,220.05 163.20,219.48 163.50,218.79 163.80,217.98 164.10,217.10 164.40,216.17 164.70,215.26 165.00,214.42 165.30,213.71 165.60,213.18 165.90,212.84 166.20,212.71 166.50,212.73 166.80,212.93 167.10,213.33 167.40,213.93 167.70,214.69 168.00,215.56 168.30,216.48 168.60,217.40 168.90,218.26 169.20,219.03 169.50,219.69 169.80,220.21 170.10,220.62 170.40,220.92 170.70,221.13 171.00,221.28 171.30,221.37 171.60,221.43 171.90,221.46 172.20,221.48 172.50,221.49 172.80,221.50 173.10,221.50 173.40,221.50 173.70,221.50 174.00,221.50 174.30,221.50 174.60,221.50 174.90,221.50 175.20,221.50 175.50,221.50 175.80,221.50 176.10,221.50 176.40,221.50 176.70,221.50 177.00,221.50 177.30,221.50 177.60,221.50 177.90,221.50 178.20,221.50 178.50,221.50 178.80,221.50 179.10,221.50 179.40,221.50 179.70,221.50 180.00,221.50 180.30,221.50 180.60,221.50 180.90,221.50 181.20,221.50 181.50,221.50 181.80,221.50 182.10,221.50 182.40,221.50 182.70,221.50 183.00,221.50 183.30,221.50 183.60,221.50 183.90,221.50 184.20,221.50 184.50,221.50 184.80,221.50 185.10,221.50 185.40,221.50 185.70,221.50 186.00,221.50 186.30,221.50 186.60,221.50 186.90,221.50 187.20,221.50 187.50,221.50 187.80,221.50 188.10,221.50 188.40,221.50 188.70,221.50 189.00,221.50 189.30,221.50 189.60,221.50 189.90,221.50 190.20,221.50 190.50,221.50 190.80,221.50 191.10,221.50 191.40,221.50 191.70,221.50 192.00,221.50 192.30,221.50 192.60,221.50 192.90,221.50 193.20,221.50 193.50,221.50 193.80,221.50 194.10,221.50 194.40,221.50 194.70,221.50 195.00,221.50 195.30,221.50 195.60,221.50 195.90,221.50 196.20,221.50 196.50,221.50 196.80,221.50 197.10,221.50 197.40,221.50 197.70,221.50 198.00,221.50 198.30,221.50 198.60,221.50 198.90,221.50 199.20,221.50 199.50,221.50 199.80,221.50 200.10,221.50 200.40,221.50 200.70,221.50 201.00,221.50 201.30,221.50 201.60,221.50 201.90,221.50 202.20,221.50 202.50,221.50 202.80,221.50 203.10,221.50 203.40,221.50 203.70,221.50 204.00,221.50 204.30,221.50 204.60,221.50 204.90,221.50 205.20,221.50 205.50,221.50 205.80,221.50 206.10,221.50 206.40,221.50 206.70,221.50 207.00,221.50 207.30,221.50 207.60,221.50 207.90,221.50 208.20,221.50 208.50,221.50 208.80,221.50 209.10,221.50 209.40,221.50 209.70,221.50 210.00,221.50 210.30,221.50 210.60,221.50 210.90,221.50 211.20,221.50 211.50,221.50 211.80,221.50 212.10,221.50 212.40,221.50 212.70,221.50 213.00,221.50 213.30,221.50 213.60,221.50 213.90,221.50 214.20,221.50 214.50,221.50 214.80,221.50 215.10,221.50 215.40,221.50 215.70,221.50 216.00,221.50 216.30,221.50 216.60,221.50 216.90,221.50 217.20,221.50 217.50,221.50 217.80,221.50 218.10,221.50 218.40,221.50 218.70,221.50 219.00,221.50 219.30,221.50 219.60,221.50 219.90,221.50 220.20,221.50 220.50,221.50 220.80,221.50 221.10,221.50 221.40,221.50 221.70,221.50 222.00,221.50 222.30,221.50 222.60,221.50 222.90,221.50 223.20,221.50 223.50,221.50 223.80,221.50 224.10,221.50 224.40,221.50 224.70,221.50 225.00,221.50 225.30,221.50 225.60,221.50 225.90,221.50 226.20,221.50 226.50,221.50 226.80,221.50 227.10,221.50 227.40,221.50 227.70,221.50 228.00,221.50 228.30,221.50 228.60,221.50 228.90,221.50 229.20,221.50 229.50,221.50 229.80,221.50 230.10,221.50 230.40,221.50 230.70,221.50 231.00,221.50 231.30,221.50 231.60,221.50 231.90,221.50 232.20,221.50 232.50,221.50 232.80,221.50 233.10,221.50 233.40,221.50 233.70,221.50 234.00,221.50 234.30,221.50 234.60,221.50 234.90,221.50 235.20,221.50 235.50,221.50 235.80,221.50 236.10,221.50 236.40,221.50 236.70,221.50 237.00,221.50 237.30,221.50 237.60,221.50 237.90,221.50 238.20,221.50 238.50,221.50 238.80,221.50 239.10,221.50 239.40,221.50 239.70,221.50 240.00,221.50 240.30,221.50 240.60,221.50 240.90,221.50 241.20,221.50 241.50,221.50 241.80,221.50 242.10,221.50 242.40,221.50 242.70,221.50 243.00,221.50 243.30,221.50 243.60,221.50 243.90,221.50 244.20,221.50 244.50,221.50 244.80,221.50 245.10,221.50 245.40,221.50 245.70,221.50 246.00,221.50 246.30,221.50" fill="none" stroke="#e69919" stroke-width="1.72" stroke-linejoin="round" stroke-linecap="square" clip-path="url(#cpa)"/>
<polygon points="266.80,222.10 268.20,221.00 269.40,219.00 270.80,208.00 272.20,187.90 273.50,167.50 274.90,149.90 276.90,133.60 279.00,122.70 280.80,115.00 283.40,108.60 285.20,105.30 287.00,104.00 288.50,104.60 289.90,106.00 292.50,112.40 295.20,120.00 299.30,130.90 303.40,141.70 307.50,152.60 311.60,162.10 315.70,170.30 319.70,178.40 323.80,186.60 327.90,193.40 330.00,196.00 332.20,199.40 334.40,203.80 336.60,206.50 338.80,208.00 342.10,208.40 345.40,208.00 348.70,206.50 352.00,205.40 356.40,204.70 359.70,204.70 363.00,205.20 366.30,206.00 369.60,207.10 374.00,208.40 379.50,209.80 384.90,210.60 390.40,211.30 395.90,211.70 400.50,212.00 405.90,212.80 411.40,213.90 416.90,215.00 422.40,216.10 427.80,217.20 433.30,218.30 438.80,219.20 444.30,219.70 449.70,220.20 455.20,220.50 462.90,220.70 464.50,220.80 464.50,222.10 266.80,222.10" fill="#1830c4" fill-opacity="0.2" stroke="#1830c4" stroke-opacity="0.2" stroke-width="1.0" stroke-linejoin="round" clip-path="url(#cpb)"/>
<polygon points="266.80,222.10 267.80,221.20 268.60,219.00 269.30,213.00 270.00,200.00 270.70,185.00 271.40,160.00 272.20,135.00 273.00,105.00 273.70,80.00 274.10,73.40 274.50,80.00 275.20,105.00 275.90,140.00 276.50,175.00 277.10,200.00 277.80,213.00 278.70,219.50 279.90,221.30 289.00,221.50 290.30,216.00 291.20,206.90 292.50,181.10 293.90,154.00 295.30,136.30 296.60,126.80 297.40,126.00 298.70,128.20 300.00,140.40 301.40,158.00 303.40,177.00 305.50,192.00 307.50,204.20 309.50,209.70 311.00,210.60 312.30,209.00 313.60,204.20 315.70,187.90 317.70,174.30 319.70,168.90 321.10,166.90 322.50,168.00 324.50,169.60 325.80,172.00 327.20,178.40 329.20,187.90 330.70,194.00 332.70,198.10 334.20,203.20 335.80,209.30 337.80,212.90 340.90,215.40 345.00,218.00 349.00,219.50 353.10,220.60 360.00,221.30 370.00,221.80 380.00,222.10" fill="#e69919" fill-opacity="0.2" stroke="#e69919" stroke-opacity="0.2" stroke-width="1.0" stroke-linejoin="round" clip-path="url(#cpb)"/>
<polyline points="266.80,221.60 268.10,221.20 270.20,220.00 272.20,217.80 274.90,213.70 277.60,211.70 281.70,210.30 284.50,209.80 287.10,209.60 291.20,209.90 296.60,211.30 302.10,212.80 307.50,214.40 312.90,215.90 318.40,217.00 323.80,218.10 329.20,218.90 334.00,219.60 340.00,220.00 360.00,220.10 380.00,220.30 400.00,220.40 420.00,220.50 441.00,220.70 450.00,221.40 464.50,221.60" fill="none" stroke="#1830c4" stroke-width="1.72" stroke-linejoin="round" stroke-linecap="square" clip-path="url(#cpb)"/>
<polyline points="266.70,221.50 270.00,221.00 271.50,219.80 272.80,217.10 274.20,211.00 275.30,208.30 276.20,211.00 277.60,217.80 279.00,221.20 285.00,221.50 291.20,221.20 293.20,217.80 295.30,214.40 297.30,213.00 299.30,213.50 302.10,215.10 304.80,217.10 307.50,219.20 310.20,220.50 312.90,220.20 315.70,218.90 318.40,217.10 321.10,216.40 325.20,216.70 329.20,217.50 334.00,218.50 338.00,219.60 342.00,220.40 350.00,220.90 365.00,221.40 380.00,221.50 464.50,221.50" fill="none" stroke="#e69919" stroke-width="1.72" stroke-linejoin="round" stroke-linecap="square" clip-path="url(#cpb)"/>
<polygon points="56.90,400.48 60.40,400.17 64.50,399.03 68.60,401.82 73.40,401.82 77.50,399.75 82.30,401.10 87.10,401.82 90.50,401.10 95.30,399.75 100.10,401.82 104.30,401.82 108.40,399.03 112.50,400.68 116.60,401.10 120.70,401.10 124.80,403.27 129.00,399.03 133.10,399.75 137.20,401.82 140.00,405.33 144.20,405.64 149.80,406.06 154.70,407.09 158.20,403.16 160.30,404.61 162.40,408.96 166.60,408.96 171.50,410.82 175.70,411.44 180.60,414.76 184.80,419.86 189.10,424.23 193.30,428.30 196.80,430.08 201.00,435.95 205.20,441.85 209.40,447.03 213.60,453.74 217.80,459.77 222.00,465.11 224.80,466.65 226.90,467.43 226.90,471.77 224.80,471.15 222.00,469.89 217.80,465.43 213.60,460.26 209.40,454.37 205.20,449.75 201.00,444.45 196.80,439.12 193.30,437.50 189.10,433.77 184.80,429.74 180.60,425.04 175.70,421.96 171.50,421.38 166.60,419.64 162.40,419.64 160.30,415.59 158.20,414.24 154.70,417.91 149.80,416.94 144.20,416.56 140.00,416.27 137.20,412.98 133.10,411.05 129.00,410.37 124.80,414.33 120.70,412.30 116.60,412.30 112.50,411.92 108.40,410.37 104.30,412.98 100.10,412.98 95.30,411.05 90.50,412.30 87.10,412.98 82.30,412.30 77.50,411.05 73.40,412.98 68.60,412.98 64.50,410.37 60.40,411.43 56.90,411.72" fill="#4477b4" fill-opacity="0.2" stroke="#4477b4" stroke-opacity="0.2" stroke-width="1.0" stroke-linejoin="round" clip-path="url(#cpc)"/>
<polygon points="56.90,412.48 60.40,410.61 64.50,409.27 68.60,408.65 73.40,407.51 76.10,401.82 77.50,399.03 82.30,400.48 87.10,399.75 90.50,395.52 95.30,389.13 99.50,387.28 103.60,381.32 107.70,374.34 112.50,370.14 116.60,366.55 120.70,360.31 124.80,356.02 129.00,355.30 133.80,351.11 137.90,348.97 142.10,343.67 145.60,337.15 150.50,340.81 154.70,339.08 158.90,332.46 162.40,332.46 167.30,325.04 171.50,327.88 176.20,324.63 180.60,324.02 184.80,324.33 189.10,322.60 193.00,322.90 197.20,318.23 201.70,322.50 205.20,323.61 209.70,327.88 214.00,322.50 218.50,327.88 222.00,333.58 224.80,340.10 226.90,346.52 226.90,360.48 224.80,354.30 222.00,348.02 218.50,342.52 214.00,337.30 209.70,342.52 205.20,338.39 201.70,337.30 197.20,333.17 193.00,337.70 189.10,337.40 184.80,339.07 180.60,338.78 176.20,339.37 171.50,342.52 167.30,339.76 162.40,346.94 158.90,346.94 154.70,353.32 150.50,354.99 145.60,351.45 142.10,357.73 137.90,362.83 133.80,364.89 129.00,368.90 124.80,369.58 120.70,373.69 116.60,379.65 112.50,383.06 107.70,387.06 103.60,393.68 99.50,399.32 95.30,401.07 90.50,407.08 87.10,411.05 82.30,411.72 77.50,410.37 76.10,412.98 73.40,418.29 68.60,419.35 64.50,419.93 60.40,421.19 56.90,422.92" fill="#4a78b8" fill-opacity="0.2" stroke="#4a78b8" stroke-opacity="0.12" stroke-width="1.0" stroke-linejoin="round" clip-path="url(#cpc)"/>
<polygon points="56.90,401.10 60.40,401.61 64.50,400.48 68.60,399.75 73.40,399.03 77.50,399.75 82.30,402.54 86.40,401.10 90.50,402.54 95.30,396.86 100.10,401.10 104.30,402.54 108.40,400.48 112.50,403.99 116.60,401.10 120.70,401.10 124.80,400.48 129.00,406.78 133.10,401.82 137.20,402.13 140.00,403.16 144.20,401.72 148.40,400.99 152.60,402.44 157.50,403.89 162.40,404.61 167.30,401.30 171.50,403.89 175.70,406.06 180.60,406.78 184.80,407.51 189.10,407.51 193.30,410.82 197.50,411.13 201.00,413.31 205.20,420.59 209.40,420.59 213.60,421.31 217.80,422.04 222.00,424.96 226.90,428.30 226.90,437.50 222.00,434.44 217.80,431.76 213.60,431.09 209.40,430.41 205.20,430.41 201.00,423.69 197.50,421.67 193.30,421.38 189.10,418.29 184.80,418.29 180.60,417.62 175.70,416.94 171.50,414.91 167.30,412.50 162.40,415.59 157.50,414.91 152.60,413.56 148.40,412.21 144.20,412.88 140.00,414.24 137.20,413.27 133.10,412.98 129.00,417.62 124.80,411.72 120.70,412.30 116.60,412.30 112.50,415.01 108.40,411.72 104.30,413.66 100.10,412.30 95.30,408.34 90.50,413.66 86.40,412.30 82.30,413.66 77.50,411.05 73.40,410.37 68.60,411.05 64.50,411.72 60.40,412.79 56.90,412.30" fill="#c4af42" fill-opacity="0.2" stroke="#c4af42" stroke-opacity="0.2" stroke-width="1.0" stroke-linejoin="round" clip-path="url(#cpc)"/>
<polygon points="56.90,415.39 60.40,418.19 64.50,416.11 68.60,414.66 73.40,414.97 77.50,416.74 82.30,419.23 86.40,416.74 90.50,416.32 95.30,419.65 100.10,418.61 104.30,417.78 108.40,416.53 112.50,416.32 116.60,416.74 120.70,418.92 124.80,413.93 129.00,415.60 133.10,416.11 137.20,415.80 140.00,416.95 144.20,414.76 148.40,412.90 153.30,412.90 158.20,414.76 162.40,412.58 167.30,411.44 171.50,412.27 175.70,411.86 180.60,414.35 184.80,412.27 189.10,413.31 193.30,414.04 197.50,414.76 201.70,414.76 205.20,411.44 209.40,414.76 213.60,417.26 217.80,412.90 222.00,414.76 226.90,413.31 226.90,423.69 222.00,425.04 217.80,423.30 213.60,427.34 209.40,425.04 205.20,421.96 201.70,425.04 197.50,425.04 193.30,424.36 189.10,423.69 184.80,422.73 180.60,424.65 175.70,422.34 171.50,422.73 167.30,421.96 162.40,423.02 158.20,425.04 153.30,423.30 148.40,423.30 144.20,425.04 140.00,427.05 137.20,426.00 133.10,426.29 129.00,425.80 124.80,424.27 120.70,428.88 116.60,426.86 112.50,426.48 108.40,426.67 104.30,427.82 100.10,428.59 95.30,429.55 90.50,426.48 86.40,426.86 82.30,429.17 77.50,426.86 73.40,425.23 68.60,424.94 64.50,426.29 60.40,428.21 56.90,425.61" fill="#ac2f14" fill-opacity="0.2" stroke="#ac2f14" stroke-opacity="0.2" stroke-width="1.0" stroke-linejoin="round" clip-path="url(#cpc)"/>
<polyline points="56.90,406.10 60.40,405.80 64.50,404.70 68.60,407.40 73.40,407.40 77.50,405.40 82.30,406.70 87.10,407.40 90.50,406.70 95.30,405.40 100.10,407.40 104.30,407.40 108.40,404.70 112.50,406.30 116.60,406.70 120.70,406.70 124.80,408.80 129.00,404.70 133.10,405.40 137.20,407.40 140.00,410.80 144.20,411.10 149.80,411.50 154.70,412.50 158.20,408.70 160.30,410.10 162.40,414.30 166.60,414.30 171.50,416.10 175.70,416.70 180.60,419.90 184.80,424.80 189.10,429.00 193.30,432.90 196.80,434.60 201.00,440.20 205.20,445.80 209.40,450.70 213.60,457.00 217.80,462.60 222.00,467.50 224.80,468.90 226.90,469.60" fill="none" stroke="#4477b4" stroke-width="1.72" stroke-linejoin="round" stroke-linecap="square" clip-path="url(#cpc)"/>
<polyline points="56.90,417.70 60.40,415.90 64.50,414.60 68.60,414.00 73.40,412.90 76.10,407.40 77.50,404.70 82.30,406.10 87.10,405.40 90.50,401.30 95.30,395.10 99.50,393.30 103.60,387.50 107.70,380.70 112.50,376.60 116.60,373.10 120.70,367.00 124.80,362.80 129.00,362.10 133.80,358.00 137.90,355.90 142.10,350.70 145.60,344.30 150.50,347.90 154.70,346.20 158.90,339.70 162.40,339.70 167.30,332.40 171.50,335.20 176.20,332.00 180.60,331.40 184.80,331.70 189.10,330.00 193.00,330.30 197.20,325.70 201.70,329.90 205.20,331.00 209.70,335.20 214.00,329.90 218.50,335.20 222.00,340.80 224.80,347.20 226.90,353.50" fill="none" stroke="#458433" stroke-width="1.72" stroke-linejoin="round" stroke-linecap="square" clip-path="url(#cpc)"/>
<polyline points="56.90,406.70 60.40,407.20 64.50,406.10 68.60,405.40 73.40,404.70 77.50,405.40 82.30,408.10 86.40,406.70 90.50,408.10 95.30,402.60 100.10,406.70 104.30,408.10 108.40,406.10 112.50,409.50 116.60,406.70 120.70,406.70 124.80,406.10 129.00,412.20 133.10,407.40 137.20,407.70 140.00,408.70 144.20,407.30 148.40,406.60 152.60,408.00 157.50,409.40 162.40,410.10 167.30,406.90 171.50,409.40 175.70,411.50 180.60,412.20 184.80,412.90 189.10,412.90 193.30,416.10 197.50,416.40 201.00,418.50 205.20,425.50 209.40,425.50 213.60,426.20 217.80,426.90 222.00,429.70 226.90,432.90" fill="none" stroke="#c4af42" stroke-width="1.72" stroke-linejoin="round" stroke-linecap="square" clip-path="url(#cpc)"/>
<polyline points="56.90,420.50 60.40,423.20 64.50,421.20 68.60,419.80 73.40,420.10 77.50,421.80 82.30,424.20 86.40,421.80 90.50,421.40 95.30,424.60 100.10,423.60 104.30,422.80 108.40,421.60 112.50,421.40 116.60,421.80 120.70,423.90 124.80,419.10 129.00,420.70 133.10,421.20 137.20,420.90 140.00,422.00 144.20,419.90 148.40,418.10 153.30,418.10 158.20,419.90 162.40,417.80 167.30,416.70 171.50,417.50 175.70,417.10 180.60,419.50 184.80,417.50 189.10,418.50 193.30,419.20 197.50,419.90 201.70,419.90 205.20,416.70 209.40,419.90 213.60,422.30 217.80,418.10 222.00,419.90 226.90,418.50" fill="none" stroke="#ac2f14" stroke-width="1.72" stroke-linejoin="round" stroke-linecap="square" clip-path="url(#cpc)"/>
<polyline points="300.10,380.80 304.10,381.90 308.50,382.10 312.90,383.00 317.30,382.60 320.60,382.10 325.00,383.90 329.40,382.60 333.80,383.70 338.20,382.60 342.60,383.00 347.00,382.60 351.40,382.60 355.80,382.60 360.20,382.60 364.60,382.10 369.00,382.60 373.40,382.60 377.80,383.70 382.20,384.80 386.00,385.20 388.40,385.30 392.80,385.90 397.20,386.30 401.60,385.90 406.00,388.70 410.40,388.10 414.80,391.40 419.10,390.30 423.50,392.50 427.90,396.20 432.30,400.60 436.70,405.70 441.10,410.10 445.50,415.60 449.90,424.40 454.30,432.10 458.70,440.90 463.10,451.90 467.50,462.80 470.10,472.30" fill="none" stroke="#4477b4" stroke-width="1.72" stroke-linejoin="round" stroke-linecap="square" clip-path="url(#cpd)"/>
<polyline points="300.10,423.90 304.10,422.60 308.50,420.00 312.90,417.80 317.30,414.50 320.60,409.00 325.00,408.30 329.40,402.40 333.80,397.50 338.20,390.90 342.60,384.80 347.00,379.30 351.40,372.70 355.80,366.10 360.20,362.30 364.60,357.90 369.00,353.50 373.40,349.60 377.80,346.30 382.20,343.00 386.00,338.60 388.40,335.30 392.80,335.30 397.20,333.10 401.60,329.80 406.00,327.60 410.40,325.80 414.80,324.30 419.10,323.60 423.50,322.10 427.90,321.40 432.30,320.60 436.30,319.90 440.70,318.10 445.10,319.20 449.50,319.50 453.20,320.60 457.60,318.40 462.00,321.00 466.40,323.90 470.10,328.70" fill="none" stroke="#458433" stroke-width="1.72" stroke-linejoin="round" stroke-linecap="square" clip-path="url(#cpd)"/>
<polyline points="300.10,381.50 304.10,381.50 308.50,382.10 312.90,380.80 317.30,382.10 320.60,381.50 325.00,382.60 329.40,381.50 333.80,383.70 338.20,379.90 342.60,382.60 347.00,382.60 351.40,382.10 355.80,383.00 360.20,382.60 364.60,380.80 369.00,382.60 372.30,384.30 376.00,381.50 380.50,382.10 384.00,382.60 388.40,381.90 392.80,381.50 397.20,381.00 401.60,381.70 406.00,382.10 410.40,379.70 414.80,380.80 419.10,381.50 423.50,381.50 427.90,381.00 431.90,379.70 436.30,381.50 440.70,379.90 445.10,380.80 449.50,381.00 453.20,380.80 457.60,379.30 462.00,380.80 466.40,380.80 470.10,382.60" fill="none" stroke="#c4af42" stroke-width="1.72" stroke-linejoin="round" stroke-linecap="square" clip-path="url(#cpd)"/>
<polyline points="300.10,429.90 304.10,430.10 308.50,429.90 312.90,430.10 317.30,429.90 320.60,429.60 325.00,432.70 329.40,431.00 333.80,429.20 338.20,432.30 342.60,431.00 347.00,431.60 351.40,430.50 355.80,430.50 360.20,429.90 364.60,430.50 369.00,428.10 373.40,428.80 376.70,428.10 381.10,430.10 386.00,426.60 388.40,427.70 392.80,426.60 397.20,424.40 401.60,426.60 406.00,426.60 410.40,424.40 414.80,424.40 419.10,423.70 423.50,425.50 427.90,425.50 432.30,426.60 436.70,427.00 441.10,426.10 445.50,425.90 449.50,423.90 453.90,426.60 458.00,425.50 462.00,422.20 466.40,426.10 470.10,422.60" fill="none" stroke="#ac2f14" stroke-width="1.72" stroke-linejoin="round" stroke-linecap="square" clip-path="url(#cpd)"/>
<polyline points="56.90,590.80 70.00,591.20 81.00,591.00 92.00,591.00 103.00,590.80 114.00,590.40 125.00,590.40 136.00,590.40 140.00,590.40 151.00,589.30 162.00,587.80 173.00,586.00 183.90,583.80 194.90,581.20 205.90,579.00 214.70,577.20 221.30,576.50 226.90,575.40" fill="none" stroke="#4477b4" stroke-width="1.72" stroke-linejoin="round" stroke-linecap="square" clip-path="url(#cpe)"/>
<polyline points="56.90,723.00 61.20,722.10 70.00,720.80 80.00,718.50 87.80,715.40 95.50,711.10 103.30,707.30 111.10,701.80 118.80,696.80 123.50,692.90 130.00,687.30 139.00,680.20 148.10,672.00 157.20,662.50 162.60,657.10 167.10,653.90 171.60,649.00 176.20,645.80 180.70,639.50 185.20,634.50 190.00,628.10 195.90,620.20 201.00,612.90 206.20,605.70 211.40,599.00 214.50,593.80 218.60,588.10 222.80,582.40 226.90,577.20" fill="none" stroke="#458433" stroke-width="1.72" stroke-linejoin="round" stroke-linecap="square" clip-path="url(#cpe)"/>
<polyline points="56.90,590.40 70.00,590.80 81.00,590.40 92.00,589.70 103.00,589.70 114.00,588.60 125.00,587.10 136.00,585.30 142.00,584.50 151.00,582.70 162.00,580.10 173.00,577.60 183.90,575.00 194.90,573.20 205.90,572.10 216.90,571.70 222.40,571.70 226.90,572.80" fill="none" stroke="#c4af42" stroke-width="1.72" stroke-linejoin="round" stroke-linecap="square" clip-path="url(#cpe)"/>
<polyline points="56.90,725.60 70.00,726.10 92.00,726.00 114.00,725.20 125.00,724.90 140.00,724.50 151.00,723.70 162.00,722.80 173.00,723.00 183.90,723.70 194.90,723.90 205.90,723.90 216.90,723.50 226.90,723.70" fill="none" stroke="#ac2f14" stroke-width="1.72" stroke-linejoin="round" stroke-linecap="square" clip-path="url(#cpe)"/>
<polyline points="300.30,645.00 314.60,644.50 329.20,644.10 339.40,644.50 346.70,644.10 355.50,643.40 361.30,643.80 368.60,643.10 377.40,642.60 386.10,641.60 393.40,640.10 400.00,638.60 405.80,636.00 411.70,634.80 415.20,632.50 419.30,631.90 423.40,627.80 429.20,623.70 435.00,617.30 440.90,610.90 446.70,603.90 452.60,596.90 458.40,588.70 464.20,580.50 470.10,571.80" fill="none" stroke="#4477b4" stroke-width="1.72" stroke-linejoin="round" stroke-linecap="square" clip-path="url(#cpf)"/>
<polyline points="300.30,724.80 314.00,722.10 327.70,718.50 341.40,713.90 355.10,708.40 368.80,702.90 382.60,697.40 396.30,691.60 410.00,685.60 421.00,680.90 432.00,674.60 442.90,666.40 453.90,656.80 464.90,647.60 470.10,641.40" fill="none" stroke="#458433" stroke-width="1.72" stroke-linejoin="round" stroke-linecap="square" clip-path="url(#cpf)"/>
<polyline points="300.30,643.50 314.60,643.80 329.20,642.80 340.90,642.60 351.10,641.60 358.40,640.10 362.80,639.10 368.60,637.20 375.90,635.50 383.20,633.30 390.50,629.90 400.00,625.60 407.00,622.00 414.00,619.10 421.00,615.50 428.00,612.60 435.00,610.30 442.00,608.30 449.00,606.80 456.00,605.40 461.90,604.80 466.60,605.00 470.10,606.20" fill="none" stroke="#c4af42" stroke-width="1.72" stroke-linejoin="round" stroke-linecap="square" clip-path="url(#cpf)"/>
<polyline points="300.30,725.60 320.60,725.80 342.60,725.60 364.60,725.20 386.00,725.00 395.00,724.50 406.00,724.10 417.00,724.30 427.90,724.50 449.90,724.70 470.10,724.80" fill="none" stroke="#ac2f14" stroke-width="1.72" stroke-linejoin="round" stroke-linecap="square" clip-path="url(#cpf)"/>
<rect x="466.0" y="85.8" width="216.20" height="87.50" rx="2.2" ry="2.2" fill="#ffffff" fill-opacity="0.8" stroke="#cccccc" stroke-width="1.0"/>
<line x1="471.3" y1="94.9" x2="493.6" y2="94.9" stroke="#1830c4" stroke-width="1.72" stroke-linecap="square"/>
<line x1="471.3" y1="111.9" x2="493.6" y2="111.9" stroke="#e69919" stroke-width="1.72" stroke-linecap="square"/>
<rect x="470.9" y="124.70" width="23.0" height="7.8" fill="#1830c4" fill-opacity="0.2" stroke="#1830c4" stroke-opacity="0.2" stroke-width="1"/>
<rect x="470.9" y="141.40" width="23.0" height="7.8" fill="#e69919" fill-opacity="0.2" stroke="#e69919" stroke-opacity="0.2" stroke-width="1"/>
<rect x="470.9" y="158.30" width="23.0" height="7.8" fill="#808080" fill-opacity="0.22" stroke="#808080" stroke-opacity="0.22" stroke-width="1"/>
<text x="502.94" y="99.20" font-size="11.76" textLength="168.54" lengthAdjust="spacingAndGlyphs">Critical Moderate Low-trigger</text>
<text x="502.38" y="116.10" font-size="11.76" textLength="175.41" lengthAdjust="spacingAndGlyphs">Infected Moderate Low-trigger</text>
<text x="502.94" y="132.90" font-size="11.76" textLength="157.39" lengthAdjust="spacingAndGlyphs">Critical Severe High-trigger</text>
<text x="502.39" y="149.70" font-size="11.76" textLength="164.26" lengthAdjust="spacingAndGlyphs">Infected Severe High-trigger</text>
<text x="502.55" y="166.50" font-size="11.76" textLength="106.56" lengthAdjust="spacingAndGlyphs">Hospital beds (US)</text>
<rect x="489.0" y="461.2" width="193.20" height="121.90" rx="2.2" ry="2.2" fill="#ffffff" fill-opacity="0.8" stroke="#cccccc" stroke-width="1.0"/>
<line x1="493.6" y1="477.9" x2="516.3" y2="477.9" stroke="#4477b4" stroke-width="1.72" stroke-linecap="square"/>
<text x="525.12" y="474.70" font-size="11.76" textLength="124.47" lengthAdjust="spacingAndGlyphs">Moderate Low-trigger</text>
<text x="526.23" y="487.40" font-size="11.76" textLength="141.00" lengthAdjust="spacingAndGlyphs">with Severe High-trigger</text>
<line x1="493.6" y1="507.5" x2="516.3" y2="507.5" stroke="#458433" stroke-width="1.72" stroke-linecap="square"/>
<text x="525.61" y="504.30" font-size="11.76" textLength="113.24" lengthAdjust="spacingAndGlyphs">Severe High-trigger</text>
<text x="526.23" y="517.00" font-size="11.76" textLength="152.14" lengthAdjust="spacingAndGlyphs">with Moderate Low-trigger</text>
<line x1="493.6" y1="537.2" x2="516.3" y2="537.2" stroke="#c4af42" stroke-width="1.72" stroke-linecap="square"/>
<text x="525.12" y="534.00" font-size="11.76" textLength="124.47" lengthAdjust="spacingAndGlyphs">Moderate Low-trigger</text>
<text x="526.23" y="546.70" font-size="11.76" textLength="152.14" lengthAdjust="spacingAndGlyphs">with Moderate Low-trigger</text>
<line x1="493.6" y1="566.8" x2="516.3" y2="566.8" stroke="#ac2f14" stroke-width="1.72" stroke-linecap="square"/>
<text x="525.61" y="563.60" font-size="11.76" textLength="113.24" lengthAdjust="spacingAndGlyphs">Severe High-trigger</text>
<text x="526.23" y="576.30" font-size="11.76" textLength="141.00" lengthAdjust="spacingAndGlyphs">with Severe High-trigger</text>
<rect x="48.30" y="42.40" width="198.10" height="179.70" fill="none" stroke="#000000" stroke-width="0.89"/>
<rect x="266.40" y="42.40" width="198.10" height="179.70" fill="none" stroke="#000000" stroke-width="0.89"/>
<rect x="48.30" y="310.50" width="187.10" height="169.00" fill="none" stroke="#000000" stroke-width="0.89"/>
<rect x="291.50" y="310.50" width="187.10" height="169.00" fill="none" stroke="#000000" stroke-width="0.89"/>
<rect x="48.30" y="564.50" width="187.10" height="168.90" fill="none" stroke="#000000" stroke-width="0.89"/>
<rect x="291.70" y="564.50" width="186.90" height="168.90" fill="none" stroke="#000000" stroke-width="0.89"/></g>
</svg></body></html>
